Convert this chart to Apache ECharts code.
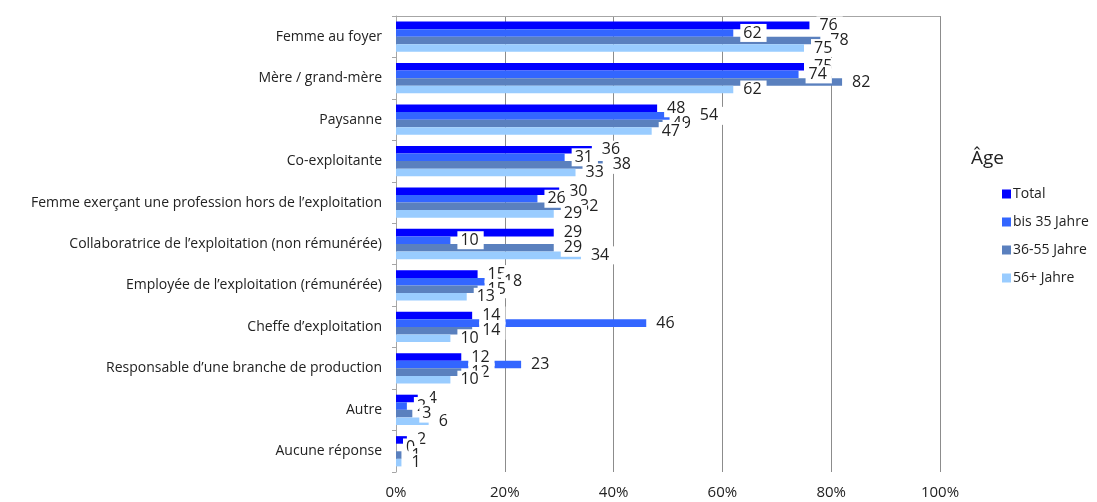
<!DOCTYPE html>
<html>
<head>
<meta charset="utf-8">
<script src="https://cdn.jsdelivr.net/npm/echarts@6/dist/echarts.min.js"></script>
<style>
  html, body { margin: 0; padding: 0; background: #fff; }
  #chart { width: 1097px; height: 502px; }
</style>
</head>
<body>
<div id="chart"></div>
<script>
// Categories (top to bottom)
const categories = [
  'Femme au foyer',
  'Mère / grand-mère',
  'Paysanne',
  'Co-exploitante',
  'Femme exerçant une profession hors de l\u2019exploitation',
  'Collaboratrice de l\u2019exploitation (non rémunérée)',
  'Employée de l\u2019exploitation (rémunérée)',
  'Cheffe d\u2019exploitation',
  'Responsable d\u2019une branche de production',
  'Autre',
  'Aucune réponse'
];

// Share of respondents in percent, per age group
const total      = [76, 75, 48, 36, 30, 29, 15, 14, 12, 4, 2];
const bis35      = [62, 74, 54, 31, 26, 10, 18, 46, 23, 2, 0];
const jahre36_55 = [78, 82, 49, 38, 32, 29, 15, 14, 12, 3, 1];
const jahre56    = [75, 62, 47, 33, 29, 34, 13, 10, 10, 6, 1];

const seriesNames = ['Total', 'bis 35 Jahre', '36-55 Jahre', '56+ Jahre'];
const seriesData = [total, bis35, jahre36_55, jahre56];
const colors = ['#0000FF', '#3366FF', '#5A80BE', '#99CCFF'];

const xTicks = [0, 20, 40, 60, 80, 100];

const FONT = '"Open Sans", "Noto Sans", sans-serif';

const chart = echarts.init(document.getElementById('chart'), null, { renderer: 'canvas' });

const series = seriesNames.map((name, i) => ({
  name: name,
  type: 'bar',
  data: seriesData[i],
  barGap: '0%',
  barCategoryGap: '27%',
  itemStyle: { color: colors[i] },
  label: {
    show: true,
    position: 'right',
    distance: 7,
    color: '#222',
    fontFamily: FONT,
    fontSize: 16,
    backgroundColor: '#fff',
    padding: [1, 5, 1, 3],
    formatter: p => String(p.value)
  }
}));

chart.setOption({
  animation: false,
  color: colors,
  grid: { left: 396, right: 157, top: 16, bottom: 30, containLabel: false },
  title: {
    text: 'Âge',
    left: 966,
    top: 144,
    textStyle: { fontFamily: FONT, fontSize: 19, fontWeight: 'normal', color: '#222' }
  },
  legend: {
    orient: 'vertical',
    left: 997,
    top: 182,
    itemWidth: 9,
    itemHeight: 9,
    itemGap: 14,
    icon: 'rect',
    textStyle: { fontFamily: FONT, fontSize: 14, color: '#222', padding: [0, 0, 0, -3] },
    data: seriesNames
  },
  xAxis: [
    {
      type: 'value',
      min: xTicks[0],
      max: xTicks[xTicks.length - 1],
      interval: 20,
      position: 'bottom',
      axisLine: { show: false },
      axisTick: { show: false },
      axisLabel: {
        formatter: v => v + '%',
        fontFamily: FONT,
        fontSize: 15,
        color: '#222',
        margin: 13
      },
      splitLine: { show: true, lineStyle: { color: '#8c8c8c', width: 1 } }
    },
    {
      type: 'value',
      min: xTicks[0],
      max: xTicks[xTicks.length - 1],
      interval: 20,
      position: 'top',
      axisLine: { show: true, lineStyle: { color: '#a6a6a6', width: 1 } },
      axisTick: { show: false },
      axisLabel: { show: false },
      splitLine: { show: false }
    }
  ],
  yAxis: {
    type: 'category',
    data: categories,
    inverse: true,
    axisLine: { show: true, lineStyle: { color: '#a6a6a6', width: 1 } },
    axisTick: { show: true, length: 4, inside: false, lineStyle: { color: '#a6a6a6' } },
    axisLabel: {
      fontFamily: FONT,
      fontSize: 14,
      color: '#222',
      margin: 14,
      padding: [3, 0, 0, 0]
    }
  },
  series: series
});
</script>
</body>
</html>
